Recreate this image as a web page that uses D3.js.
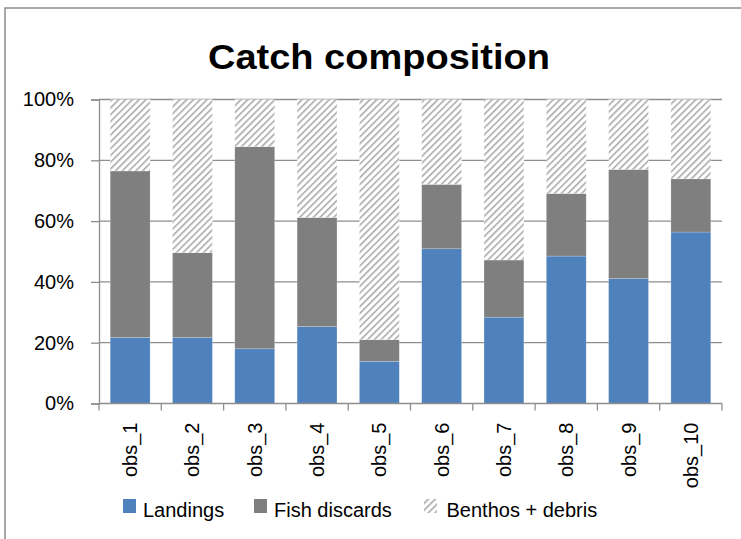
<!DOCTYPE html>
<html><head><meta charset="utf-8">
<script src="https://cdn.jsdelivr.net/npm/d3@7"></script>
<style>html,body{margin:0;padding:0;background:#fff;}svg{display:block;}</style>
</head><body>
<svg id="chart" width="741" height="539"></svg>
<script>
const categories = ["obs_1","obs_2","obs_3","obs_4","obs_5","obs_6","obs_7","obs_8","obs_9","obs_10"];
const landings = [21.7, 21.7, 18.0, 25.3, 13.9, 50.9, 28.4, 48.5, 41.1, 56.4];
const fishDiscards = [54.8, 27.9, 66.5, 35.9, 7.1, 21.2, 18.8, 20.6, 35.9, 17.5];
const benthosDebris = [23.5, 50.4, 15.5, 38.8, 79.0, 27.9, 52.8, 30.9, 23.0, 26.1];
const seriesNames = ["Landings", "Fish discards", "Benthos + debris"];
const yTicks = [0, 0.2, 0.4, 0.6, 0.8, 1.0];

const rows = categories.map((c, i) => ({cat: c, "Landings": landings[i], "Fish discards": fishDiscards[i], "Benthos + debris": benthosDebris[i]}));
const stack = d3.stack().keys(seriesNames).offset(d3.stackOffsetExpand);
const layers = stack(rows);

const svg = d3.select("#chart");
const font = "'Liberation Sans', Arial, sans-serif";

// pattern
const defs = svg.append("defs");
const pat = defs.append("pattern").attr("id", "hatch").attr("patternUnits", "userSpaceOnUse")
  .attr("width", 4.8).attr("height", 4.8).attr("patternTransform", "rotate(45)");
pat.append("rect").attr("width", 4.8).attr("height", 4.8).attr("fill", "#fff");
pat.append("rect").attr("x", 0).attr("y", 0).attr("width", 1.6).attr("height", 4.8).attr("fill", "#ababab");

// border
svg.append("rect").attr("x", 5).attr("y", 8).attr("width", 760).attr("height", 560)
  .attr("fill", "none").attr("stroke", "#8c8c8c").attr("stroke-width", 1.5);

const x0 = 99, x1 = 722, yTop = 99.5, yBot = 403.5;
const x = d3.scaleBand().domain(categories).range([x0, x1]).paddingInner(0.36).paddingOuter(0.18);
const y = d3.scaleLinear().domain([0, 1]).range([yBot, yTop]);

// gridlines
svg.append("g").selectAll("line").data(yTicks.filter(t => t > 0)).join("line")
  .attr("x1", x0).attr("x2", x1).attr("y1", d => y(d)).attr("y2", d => y(d))
  .attr("stroke", "#8e8e8e").attr("stroke-width", 1.3);

const colors = {"Landings": "#4f81bd", "Fish discards": "#7f7f7f", "Benthos + debris": "url(#hatch)"};

svg.append("g").selectAll("g").data(layers).join("g")
  .attr("fill", d => colors[d.key])
  .selectAll("rect").data(d => d).join("rect")
  .attr("x", d => x(d.data.cat)).attr("width", x.bandwidth())
  .attr("y", d => y(d[1])).attr("height", d => y(d[0]) - y(d[1]))
  .attr("stroke", "rgba(255,255,255,0.35)").attr("stroke-width", 0.6);

// y axis
const yAxis = d3.axisLeft(y).tickValues(yTicks).tickFormat(d3.format(".0%")).tickSize(8).tickPadding(17);
const gy = svg.append("g").attr("transform", `translate(${x0},0)`).call(yAxis);
gy.selectAll("line").attr("stroke", "#8e8e8e").attr("stroke-width", 1.3);
gy.select(".domain").attr("stroke", "#8e8e8e").attr("stroke-width", 1.3);
gy.selectAll("text").attr("font-family", font).attr("font-size", 20).attr("fill", "#000");

// x axis
const gx = svg.append("g").attr("transform", `translate(0,${yBot})`);
gx.append("line").attr("x1", x0).attr("x2", x1).attr("y1", 0).attr("y2", 0)
  .attr("stroke", "#8e8e8e").attr("stroke-width", 1.3);
const boundaries = d3.range(categories.length + 1).map(i => x0 + (x1 - x0) * i / categories.length);
gx.selectAll("line.tk").data(boundaries).join("line").attr("class", "tk")
  .attr("x1", d => d).attr("x2", d => d).attr("y1", 0).attr("y2", 7)
  .attr("stroke", "#8e8e8e").attr("stroke-width", 1.3);
gx.selectAll("text").data(categories).join("text")
  .attr("transform", d => `translate(${x(d) + x.bandwidth() / 2},19) rotate(-90)`)
  .attr("text-anchor", "end").attr("dy", "0.35em")
  .attr("font-family", font).attr("font-size", 20).attr("fill", "#000")
  .text(d => d);

// title
svg.append("text").attr("x", 379).attr("y", 69).attr("text-anchor", "middle")
  .attr("font-family", font).attr("font-weight", "bold").attr("font-size", 35)
  .attr("textLength", 342).attr("lengthAdjust", "spacingAndGlyphs")
  .attr("fill", "#000").text("Catch composition");

// legend
const legendX = [123, 254, 424];
const lg = svg.append("g").selectAll("g").data(seriesNames).join("g")
  .attr("transform", (d, i) => `translate(${legendX[i]},0)`);
lg.append("rect").attr("x", 0).attr("y", 499).attr("width", 13).attr("height", 14)
  .attr("fill", d => d === "Benthos + debris" ? "url(#hatch)" : colors[d]);
lg.append("text").attr("x", (d, i) => i === 2 ? 22.5 : 20).attr("y", 517)
  .attr("font-family", font).attr("font-size", 20).attr("fill", "#000").text(d => d);
</script>
</body></html>
